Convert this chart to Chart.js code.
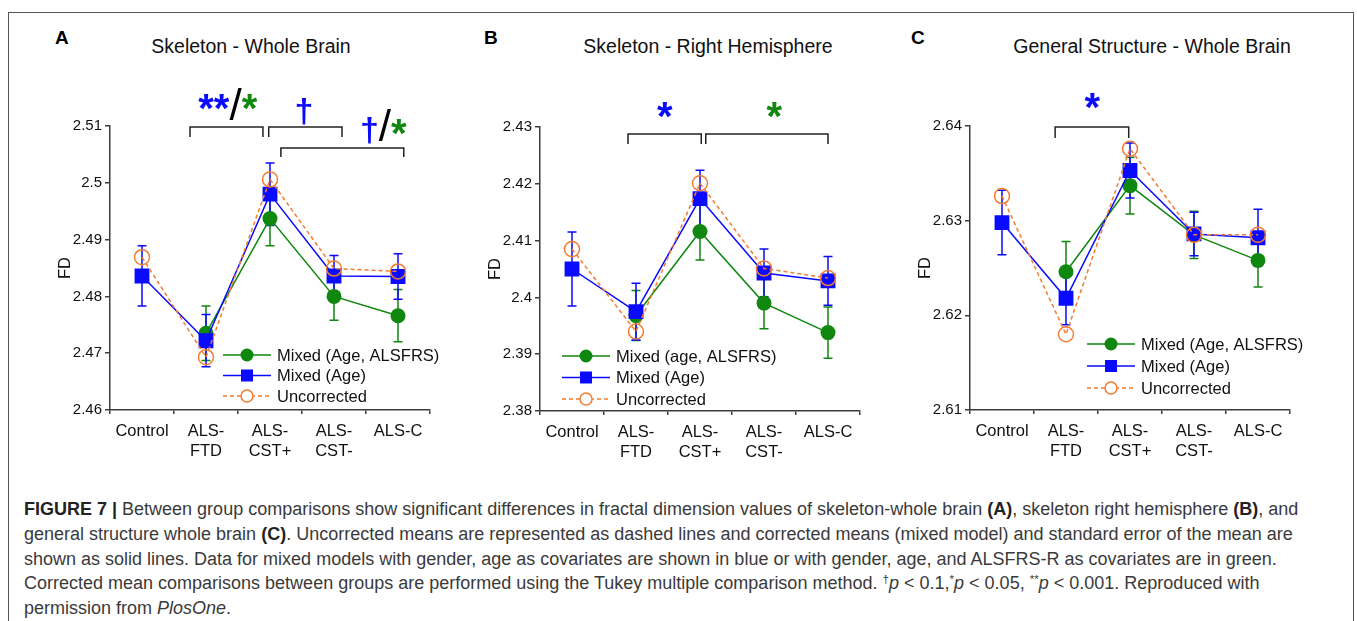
<!DOCTYPE html>
<html>
<head>
<meta charset="utf-8">
<script src="https://cdn.jsdelivr.net/npm/chart.js@4.4.1/dist/chart.umd.min.js"></script>
<style>
  body { margin: 0; background: #fff; width: 1357px; height: 621px; overflow: hidden; position: relative;
         font-family: "Liberation Sans", Arial, Helvetica, sans-serif; }
  .frame { position: absolute; left: 8px; top: 12px; width: 1344px; height: 640px; border: 1px solid #555; }
  .letter { position: absolute; top: 28px; font-size: 19px; line-height: 1; font-weight: bold; color: #000; }
  .title { position: absolute; top: 37px; font-size: 19.5px; line-height: 1; color: #111; white-space: nowrap; transform: translateX(-50%); }
  canvas { position: absolute; }
  .caption { position: absolute; left: 24px; top: 497px; font-size: 18px; line-height: 24.8px; color: #3a3a3a; white-space: nowrap; }
  .caption b { color: #222; }
  .caption sup { font-size: 0.65em; vertical-align: 0.55em; line-height: 0; }
</style>
</head>
<body>
<div class="frame"></div>

<div class="letter" style="left:55px">A</div>
<div class="letter" style="left:484px">B</div>
<div class="letter" style="left:911px">C</div>
<div class="title" style="left:251px">Skeleton - Whole Brain</div>
<div class="title" style="left:708px">Skeleton - Right Hemisphere</div>
<div class="title" style="left:1152px">General Structure - Whole Brain</div>

<canvas id="chartA" width="420" height="410" style="left:40px;top:55px"></canvas>
<canvas id="chartB" width="420" height="410" style="left:470px;top:55px"></canvas>
<canvas id="chartC" width="420" height="410" style="left:900px;top:55px"></canvas>

<div class="caption">
<b>FIGURE 7 |</b> Between group comparisons show significant differences in fractal dimension values of skeleton-whole brain <b>(A)</b>, skeleton right hemisphere <b>(B)</b>, and<br>
general structure whole brain <b>(C)</b>. Uncorrected means are represented as dashed lines and corrected means (mixed model) and standard error of the mean are<br>
shown as solid lines. Data for mixed models with gender, age as covariates are shown in blue or with gender, age, and ALSFRS-R as covariates are in green.<br>
Corrected mean comparisons between groups are performed using the Tukey multiple comparison method. <sup>†</sup><i>p</i> &lt; 0.1,<sup>*</sup><i>p</i> &lt; 0.05, <sup>**</sup><i>p</i> &lt; 0.001. Reproduced with<br>
permission from <i>PlosOne</i>.
</div>

<script>
// groups on the x axis
const groups = ['Control', ['ALS-', 'FTD'], ['ALS-', 'CST+'], ['ALS-', 'CST-'], 'ALS-C'];

// A: skeleton - whole brain
const skelWholeAgeAlsfrs    = [null, 2.4735, 2.4937, 2.4800, 2.4766];
const skelWholeAgeAlsfrsErr = [null, 0.0048, 0.0048, 0.0042, 0.0046];
const skelWholeAge          = [2.4836, 2.4722, 2.4980, 2.4836, 2.4835];
const skelWholeAgeErr       = [0.0053, 0.0046, 0.0055, 0.0036, 0.0040];
const skelWholeUncorr       = [2.4869, 2.4693, 2.5006, 2.4849, 2.4844];

// B: skeleton - right hemisphere
const skelRightAgeAlsfrs    = [null, 2.3968, 2.4116, 2.3990, 2.3938];
const skelRightAgeAlsfrsErr = [null, 0.0044, 0.0050, 0.0045, 0.0045];
const skelRightAge          = [2.4050, 2.3975, 2.4174, 2.4043, 2.4029];
const skelRightAgeErr       = [0.0065, 0.0050, 0.0050, 0.0042, 0.0043];
const skelRightUncorr       = [2.4085, 2.3940, 2.4201, 2.4051, 2.4034];

// C: general structure - whole brain
const genWholeAgeAlsfrs     = [null, 2.6246, 2.6337, 2.6285, 2.6258];
const genWholeAgeAlsfrsErr  = [null, 0.0032, 0.0030, 0.0025, 0.0028];
const genWholeAge           = [2.6298, 2.6218, 2.6353, 2.6286, 2.6282];
const genWholeAgeErr        = [0.0034, 0.0028, 0.0029, 0.0023, 0.0030];
const genWholeUncorr        = [2.6326, 2.6180, 2.6376, 2.6285, 2.6285];

const GREEN = '#10870f', BLUE = '#0a0aff', ORANGE = '#f47c30', INK = '#222';
const FONT = '"Liberation Sans", Arial, sans-serif';

Chart.defaults.font.family = FONT;
Chart.defaults.color = '#111';

// error bars, significance brackets and the in-plot legend
const annotate = {
  id: 'annotate',
  beforeDatasetsDraw(chart, args, opts) {
    const ctx = chart.ctx, xs = chart.scales.x, ys = chart.scales.y;
    ctx.save();
    ctx.lineWidth = 1.5;
    chart.data.datasets.forEach((ds, i) => {
      const err = opts.errors[i];
      if (!err) return;
      ctx.strokeStyle = ds.borderColor;
      ds.data.forEach((v, j) => {
        if (v == null || err[j] == null) return;
        const x = xs.getPixelForValue(j);
        const y1 = ys.getPixelForValue(v + err[j]);
        const y2 = ys.getPixelForValue(v - err[j]);
        ctx.beginPath();
        ctx.moveTo(x, y1); ctx.lineTo(x, y2);
        ctx.moveTo(x - 4.5, y1); ctx.lineTo(x + 4.5, y1);
        ctx.moveTo(x - 4.5, y2); ctx.lineTo(x + 4.5, y2);
        ctx.stroke();
      });
    });
    ctx.restore();
  },
  afterDraw(chart, args, opts) {
    const ctx = chart.ctx, xs = chart.scales.x, area = chart.chartArea;
    ctx.save();
    // brackets
    ctx.strokeStyle = INK;
    ctx.lineWidth = 1.5;
    opts.brackets.forEach(b => {
      const x1 = xs.getPixelForValue(b.from), x2 = xs.getPixelForValue(b.to);
      const y = area.top + b.dy;
      ctx.beginPath();
      ctx.moveTo(x1, y + b.leg); ctx.lineTo(x1, y); ctx.lineTo(x2, y); ctx.lineTo(x2, y + b.leg);
      ctx.stroke();
    });
    // significance marks
    ctx.textBaseline = 'alphabetic';
    ctx.textAlign = 'left';
    opts.marks.forEach(m => {
      let w = 0;
      m.parts.forEach(p => { ctx.font = p.font; w += ctx.measureText(p.text).width; });
      let x = xs.getPixelForValue(m.at) - w / 2;
      const y = area.top + m.dy;
      m.parts.forEach(p => {
        ctx.font = p.font;
        ctx.fillStyle = p.color;
        ctx.fillText(p.text, x, y + (p.dy || 0));
        x += ctx.measureText(p.text).width;
      });
    });
    // legend
    const lg = opts.legend;
    ctx.font = '16.5px ' + FONT;
    ctx.textBaseline = 'middle';
    chart.data.datasets.forEach((ds, i) => {
      const x = area.left + lg.dx, y = area.bottom + lg.dy + i * lg.gap;
      ctx.strokeStyle = ds.borderColor;
      ctx.lineWidth = 1.5;
      ctx.setLineDash(ds.borderDash || []);
      ctx.beginPath(); ctx.moveTo(x, y); ctx.lineTo(x + 48, y); ctx.stroke();
      ctx.setLineDash([]);
      const cx = x + 24;
      ctx.beginPath();
      if (ds.pointStyle === 'rect') {
        ctx.fillStyle = ds.borderColor;
        ctx.fillRect(cx - 6, y - 6, 12, 12);
      } else if (ds.hollow) {
        ctx.fillStyle = '#fff';
        ctx.arc(cx, y, 6, 0, Math.PI * 2);
        ctx.fill(); ctx.stroke();
      } else {
        ctx.fillStyle = ds.borderColor;
        ctx.arc(cx, y, 6.5, 0, Math.PI * 2);
        ctx.fill();
      }
      ctx.fillStyle = '#111';
      ctx.fillText(ds.label, x + 54, y + 1);
    });
    ctx.restore();
  }
};

const star = 'bold 40px ' + FONT, slash = '44px ' + FONT, dag = 'bold 34px ' + FONT;

function makeChart(id, p) {
  return new Chart(document.getElementById(id), {
    type: 'line',
    data: {
      labels: groups,
      datasets: [
        { label: p.labels[0], data: p.green, borderColor: GREEN, backgroundColor: GREEN, borderWidth: 1.5,
          pointStyle: 'circle', pointRadius: 7.5, pointBorderWidth: 0, order: 3 },
        { label: p.labels[1], data: p.blue, borderColor: BLUE, backgroundColor: BLUE, borderWidth: 1.5,
          pointStyle: 'rect', pointRadius: 10.5, pointBorderWidth: 0, order: 2 },
        { label: p.labels[2], data: p.orange, borderColor: ORANGE, backgroundColor: 'rgba(0,0,0,0)', borderWidth: 1.5,
          borderDash: [4, 3], pointStyle: 'circle', pointRadius: 7.5, pointBorderWidth: 1.5, hollow: true, order: 1 }
      ]
    },
    options: {
      responsive: false,
      animation: false,
      events: [],
      layout: { padding: { top: p.padTop, right: 30, left: 0, bottom: 0 } },
      plugins: {
        legend: { display: false },
        tooltip: { enabled: false },
        annotate: { errors: p.errors, brackets: p.brackets, marks: p.marks, legend: p.legend }
      },
      scales: {
        x: {
          offset: true,
          grid: { offset: true, drawOnChartArea: false, drawTicks: true, tickLength: 4, color: '#3c3c3c', lineWidth: 1.5 },
          border: { color: '#3c3c3c', width: 1.5 },
          ticks: { font: { size: 16.5, lineHeight: 1.2 }, color: '#111', padding: 8, maxRotation: 0, autoSkip: false },
          afterFit(s) { s.height = p.xHeight; }
        },
        y: {
          min: p.min, max: p.max,
          grid: { drawOnChartArea: false, drawTicks: true, tickLength: 5, color: '#3c3c3c', lineWidth: 1.5 },
          border: { color: '#3c3c3c', width: 1.5 },
          ticks: { stepSize: 0.01, font: { size: 15 }, color: '#111', padding: 3,
                   callback: v => String(+v.toFixed(2)) },
          title: { display: true, text: 'FD', font: { size: 16.5 }, color: '#111', padding: { top: 16, bottom: 0 } },
          afterFit(s) { s.width = 70; }
        }
      }
    },
    plugins: [annotate]
  });
}

makeChart('chartA', {
  min: 2.46, max: 2.51, padTop: 71, xHeight: 55,
  labels: ['Mixed (Age, ALSFRS)', 'Mixed (Age)', 'Uncorrected'],
  green: skelWholeAgeAlsfrs, blue: skelWholeAge, orange: skelWholeUncorr,
  errors: [skelWholeAgeAlsfrsErr, skelWholeAgeErr, null],
  brackets: [
    { from: 0.75, to: 1.89, dy: 1, leg: 10 },
    { from: 1.98, to: 3.125, dy: 1, leg: 10 },
    { from: 2.17, to: 4.09, dy: 22, leg: 9 }
  ],
  marks: [
    { at: 1.34, dy: -6, parts: [{ text: '**', color: BLUE, font: star, dy: 2 }, { text: '/', color: '#000', font: slash }, { text: '*', color: GREEN, font: star, dy: 2 }] },
    { at: 2.53, dy: -4, parts: [{ text: '†', color: BLUE, font: dag }] },
    { at: 3.77, dy: 15, parts: [{ text: '†', color: BLUE, font: dag }, { text: '/', color: '#000', font: slash }, { text: '*', color: GREEN, font: star, dy: 6 }] }
  ],
  legend: { dx: 113, dy: -55, gap: 20.5 }
});

makeChart('chartB', {
  min: 2.38, max: 2.43, padTop: 72, xHeight: 54,
  labels: ['Mixed (age, ALSFRS)', 'Mixed (Age)', 'Uncorrected'],
  green: skelRightAgeAlsfrs, blue: skelRightAge, orange: skelRightUncorr,
  errors: [skelRightAgeAlsfrsErr, skelRightAgeErr, null],
  brackets: [
    { from: 0.875, to: 2.02, dy: 7, leg: 10 },
    { from: 2.09, to: 4.0, dy: 7, leg: 10 }
  ],
  marks: [
    { at: 1.45, dy: 3, parts: [{ text: '*', color: BLUE, font: star }] },
    { at: 3.16, dy: 3, parts: [{ text: '*', color: GREEN, font: star }] }
  ],
  legend: { dx: 22, dy: -55, gap: 21.5 }
});

makeChart('chartC', {
  min: 2.61, max: 2.64, padTop: 71, xHeight: 55,
  labels: ['Mixed (Age, ALSFRS)', 'Mixed (Age)', 'Uncorrected'],
  green: genWholeAgeAlsfrs, blue: genWholeAge, orange: genWholeUncorr,
  errors: [genWholeAgeAlsfrsErr, genWholeAgeErr, null],
  brackets: [
    { from: 0.83, to: 1.98, dy: 1, leg: 11 }
  ],
  marks: [
    { at: 1.41, dy: -5, parts: [{ text: '*', color: BLUE, font: star }] }
  ],
  legend: { dx: 117, dy: -66, gap: 22 }
});
</script>
</body>
</html>
